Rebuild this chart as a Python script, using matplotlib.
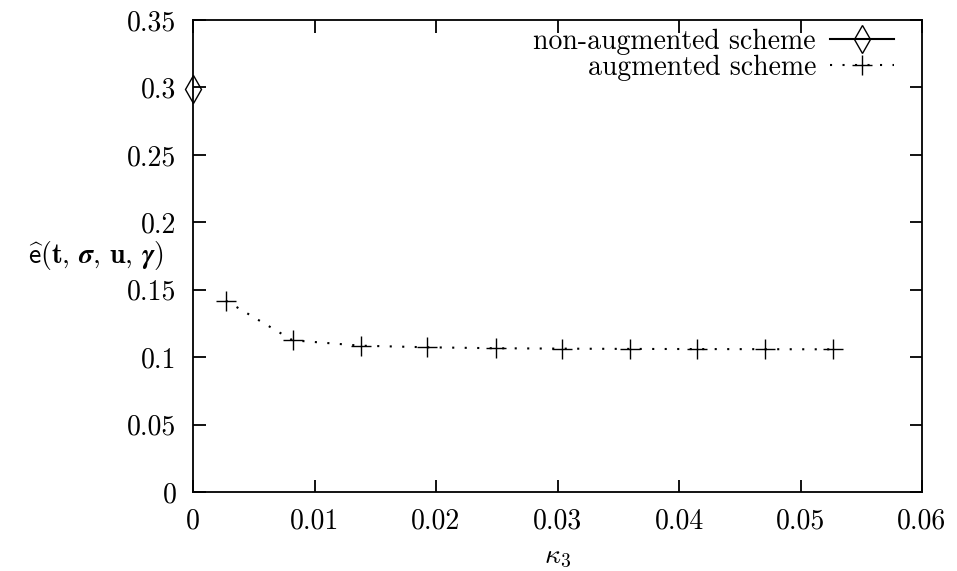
import numpy as np
import matplotlib
matplotlib.use("Agg")
from matplotlib import pyplot as plt

# data
kappa_non = [0.0]
err_non = [0.299]
kappa_aug = [0.0027, 0.0082, 0.0138, 0.0193, 0.0249, 0.0304, 0.0360, 0.0415, 0.0471, 0.0527]
err_aug = [0.1419, 0.1125, 0.1085, 0.1073, 0.1066, 0.1063, 0.1061, 0.1060, 0.1059, 0.1058]

xticks = [0, 0.01, 0.02, 0.03, 0.04, 0.05, 0.06]
xticklabels = ["0", "0.01", "0.02", "0.03", "0.04", "0.05", "0.06"]
yticks = [0, 0.05, 0.1, 0.15, 0.2, 0.25, 0.3, 0.35]
yticklabels = ["0", "0.05", "0.1", "0.15", "0.2", "0.25", "0.3", "0.35"]

plt.rcParams["font.family"] = "serif"
plt.rcParams["font.serif"] = ["cmr10", "DejaVu Serif"]
plt.rcParams["mathtext.fontset"] = "cm"
plt.rcParams["axes.unicode_minus"] = False

fs = 20

fig = plt.figure(figsize=(9.57, 5.71), dpi=100)
ax = fig.add_axes([193 / 957, 1 - 492 / 571, 729 / 957, 472 / 571])

ax.plot(kappa_non, err_non, color="black", linestyle="-", linewidth=1.5,
        marker="d", markersize=14, markerfacecolor="none", markeredgewidth=1.0,
        label="non-augmented scheme", clip_on=False, zorder=5)
ax.plot(kappa_aug, err_aug, color="black", linestyle=(0, (1, 5)), linewidth=1.5,
        marker="+", markersize=14, markeredgewidth=1.0,
        label="augmented scheme")

ax.set_xlim(0, 0.06)
ax.set_ylim(0, 0.35)
ax.set_xticks(xticks)
ax.set_xticklabels(xticklabels)
ax.set_yticks(yticks)
ax.set_yticklabels(yticklabels)
ax.tick_params(direction="in", length=9, width=1.3, top=True, right=True,
               labelsize=fs)
ax.tick_params(axis="x", pad=12)
ax.tick_params(axis="y", pad=12)
for sp in ax.spines.values():
    sp.set_linewidth(1.3)

ax.set_xlabel(r"$\kappa_3$", fontsize=fs, labelpad=6)
ax.text(-0.04, 0.50,
        r"$\widehat{\mathsf{e}}(\mathbf{t},\,\boldsymbol{\sigma},\,\mathbf{u},\,\boldsymbol{\gamma})$",
        transform=ax.transAxes, ha="right", va="center", fontsize=fs)

ax.legend(loc="upper right", bbox_to_anchor=(1 - 20 / 729, 1.0),
          frameon=False, markerfirst=False, fontsize=fs,
          handlelength=2.3, handletextpad=0.5, labelspacing=0.0,
          borderaxespad=0.1, borderpad=0.2)

fig.savefig("out.png", dpi=100)
